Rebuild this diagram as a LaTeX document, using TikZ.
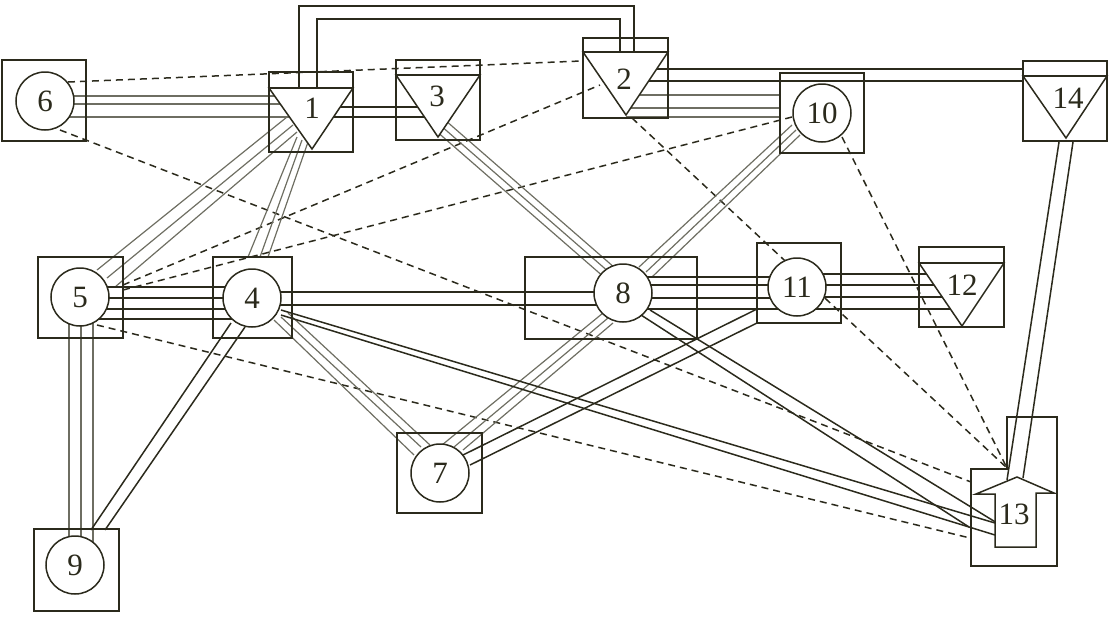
\documentclass[tikz,border=0pt]{standalone}
\usepackage{fontspec}
\setmainfont{Liberation Serif}
\usetikzlibrary{calc}
\definecolor{ink}{HTML}{2B2A1C}
\definecolor{gline}{HTML}{6E6E62}
\tikzset{
 dk/.style={draw=ink,line width=1.5pt},
 gy/.style={draw=gline,line width=1.2pt},
 ds/.style={draw=ink,line width=1.5pt,dash pattern=on 7pt off 5pt},
 shp/.style={draw=ink,line width=1.5pt,fill=white},
 bx/.style={draw=ink,line width=1.5pt},
 lbl/.style={font=\fontsize{31}{32}\selectfont,text=ink,inner sep=0pt}
}
\newcommand\cn[5][]{\draw[#1] ($(#2)+(#3)$) -- ($(#4)+(#5)$);}
\begin{document}
\begin{tikzpicture}[x=1pt,y=-1pt]
\useasboundingbox (0,0) rectangle (1109,625);
\coordinate (c6) at (45,101);
\coordinate (c1) at (312,110);
\coordinate (c3) at (438,100);
\coordinate (c2) at (626,80);
\coordinate (c10) at (822,113);
\coordinate (c14) at (1066,100);
\coordinate (c5) at (80,297);
\coordinate (c4) at (252,298);
\coordinate (c8) at (623,293);
\coordinate (c11) at (797,287);
\coordinate (c12) at (962,287);
\coordinate (c7) at (440,473);
\coordinate (c9) at (75,565);
\coordinate (c13) at (1015,515);
% dashed
\cn[ds]{c6}{23,-19}{c2}{-45,-19}
\cn[ds]{c6}{15,29}{c13}{-44,-33}
\cn[ds]{c5}{43,-12}{c2}{-26,5}
\cn[ds]{c5}{43,-7}{c10}{-30,4}
\cn[ds]{c5}{17,28}{c13}{-45,23}
\cn[ds]{c2}{6,38}{c13}{-8,-47}
\cn[ds]{c10}{20,24}{c13}{-8,-47}
% top route 1-2
\draw[dk] ($(c1)+(-13,-22)$) |- ($(c2)+(8,-74)$) -- ($(c2)+(8,-28)$);
\draw[dk] ($(c1)+(5,-22)$) |- ($(c2)+(-6,-61)$) -- ($(c2)+(-6,-28)$);
% gray triples
\cn[gy]{c6}{0,-5}{c1}{0,-14}
\cn[gy]{c6}{0,3}{c1}{0,-6}
\cn[gy]{c6}{0,16}{c1}{0,7}
\cn[gy]{c2}{0,15}{c10}{-42,-18}
\cn[gy]{c2}{0,28}{c10}{-42,-5}
\cn[gy]{c2}{0,37}{c10}{-42,4}
\cn[gy]{c1}{-25,7}{c5}{17,-27}
\cn[gy]{c1}{-19,15}{c5}{27,-19}
\cn[gy]{c1}{-15,22}{c5}{35,-10}
\cn[gy]{c1}{-15,27}{c4}{-4,-41}
\cn[gy]{c1}{-10,30}{c4}{8,-41}
\cn[gy]{c1}{-4,32}{c4}{16,-41}
\cn[gy]{c3}{-3,30}{c8}{-18,-15}
\cn[gy]{c3}{2,25}{c8}{-13,-20}
\cn[gy]{c3}{7,20}{c8}{-8,-25}
\cn[gy]{c10}{-30,12}{c8}{16,-26}
\cn[gy]{c10}{-26,17}{c8}{23,-21}
\cn[gy]{c10}{-22,22}{c8}{29,-16}
\cn[gy]{c8}{-20,20}{c7}{2,-28}
\cn[gy]{c8}{-15,25}{c7}{14,-26}
\cn[gy]{c8}{-10,30}{c7}{23,-23}
\cn[gy]{c4}{22,22}{c7}{-26,-18}
\cn[gy]{c4}{29,19}{c7}{-19,-26}
\cn[gy]{c4}{36,15}{c7}{-10,-28}
\cn[gy]{c5}{-11,0}{c9}{-6,0}
\cn[gy]{c5}{1,0}{c9}{6,0}
\cn[gy]{c5}{13,0}{c9}{18,0}
% dark
\cn[dk]{c1}{0,-3}{c3}{0,7}
\cn[dk]{c1}{0,7}{c3}{0,17}
\cn[dk]{c2}{0,-11}{c14}{-43,-31}
\cn[dk]{c2}{0,1}{c14}{-43,-19}
\cn[dk]{c7}{23,-18}{c11}{-40,22}
\cn[dk]{c7}{30,-8}{c11}{-40,36}
\cn[dk]{c4}{-21,25}{c9}{16,-35}
\cn[dk]{c4}{-7,29}{c9}{30,-35}
\cn[dk]{c5}{0,-10}{c4}{0,-11}
\cn[dk]{c5}{0,1}{c4}{0,0}
\cn[dk]{c5}{0,12}{c4}{0,11}
\cn[dk]{c5}{0,22}{c4}{0,21}
\cn[dk]{c4}{0,-6}{c8}{0,-1}
\cn[dk]{c4}{0,7}{c8}{0,12}
\cn[dk]{c8}{0,-16}{c11}{0,-10}
\cn[dk]{c8}{0,-8}{c11}{0,-2}
\cn[dk]{c8}{0,5}{c11}{0,11}
\cn[dk]{c8}{0,16}{c11}{0,22}
\cn[dk]{c11}{0,-13}{c12}{0,-13}
\cn[dk]{c11}{0,-2}{c12}{0,-2}
\cn[dk]{c11}{0,10}{c12}{0,10}
\cn[dk]{c11}{0,22}{c12}{0,22}
\cn[dk]{c4}{29,12}{c13}{-20,8}
\cn[dk]{c4}{29,17}{c13}{-20,20}
\cn[dk]{c8}{18,22}{c13}{-46,12}
\cn[dk]{c8}{27,17}{c13}{-18,8}
\cn[dk]{c14}{-7,42}{c13}{-8,-35}
\cn[dk]{c14}{7,42}{c13}{8,-37}
% boxes
\draw[bx] (2,60) rectangle (86,141);
\draw[bx] (269,72) rectangle (353,152) (269,88) -- (353,88);
\draw[bx] (396,60) rectangle (480,140) (396,75) -- (480,75);
\draw[bx] (583,38) rectangle (668,118) (583,52) -- (668,52);
\draw[bx] (1023,61) rectangle (1107,141) (1023,76) -- (1107,76);
\draw[bx] (780,73) rectangle (864,153);
\draw[bx] (38,257) rectangle (123,338);
\draw[bx] (213,257) rectangle (292,338);
\draw[bx] (525,257) rectangle (697,339);
\draw[bx] (757,243) rectangle (841,323);
\draw[bx] (919,247) rectangle (1004,327) (919,263) -- (1004,263);
\draw[bx] (397,433) rectangle (482,513);
\draw[bx] (34,529) rectangle (119,611);
\draw[bx] (971,469) -- (1007,469) -- (1007,417) -- (1057,417) -- (1057,566) -- (971,566) -- cycle;
% shapes
\draw[shp] (269,88) -- (353,88) -- (312,149) -- cycle;
\draw[shp] (396,75) -- (480,75) -- (438,137) -- cycle;
\draw[shp] (583,52) -- (668,52) -- (626,115) -- cycle;
\draw[shp] (1023,76) -- (1107,76) -- (1066,138) -- cycle;
\draw[shp] (919,263) -- (1004,263) -- (962,326) -- cycle;
\draw[shp] (995,547) -- (995,494) -- (976,494) -- (1017,477) -- (1054,493) -- (1036,493) -- (1036,547) -- cycle;
\foreach \c in {c6,c10,c5,c4,c8,c11,c7,c9} \draw[shp] (\c) circle (29);
% labels
\node[lbl] (n6) at (c6) {6};
\node[lbl] (n1) at (312,108) {1};
\node[lbl] (n3) at (437,96) {3};
\node[lbl] (n2) at (624,79) {2};
\node[lbl] (n14) at (1068,98) {14};
\node[lbl] (n10) at (c10) {10};
\node[lbl] (n5) at (c5) {5};
\node[lbl] (n4) at (c4) {4};
\node[lbl] (n8) at (c8) {8};
\node[lbl] (n11) at (c11) {11};
\node[lbl] (n12) at (962,285) {12};
\node[lbl] (n7) at (c7) {7};
\node[lbl] (n9) at (c9) {9};
\node[lbl] (n13) at (1014,514) {13};
\end{tikzpicture}
\end{document}
